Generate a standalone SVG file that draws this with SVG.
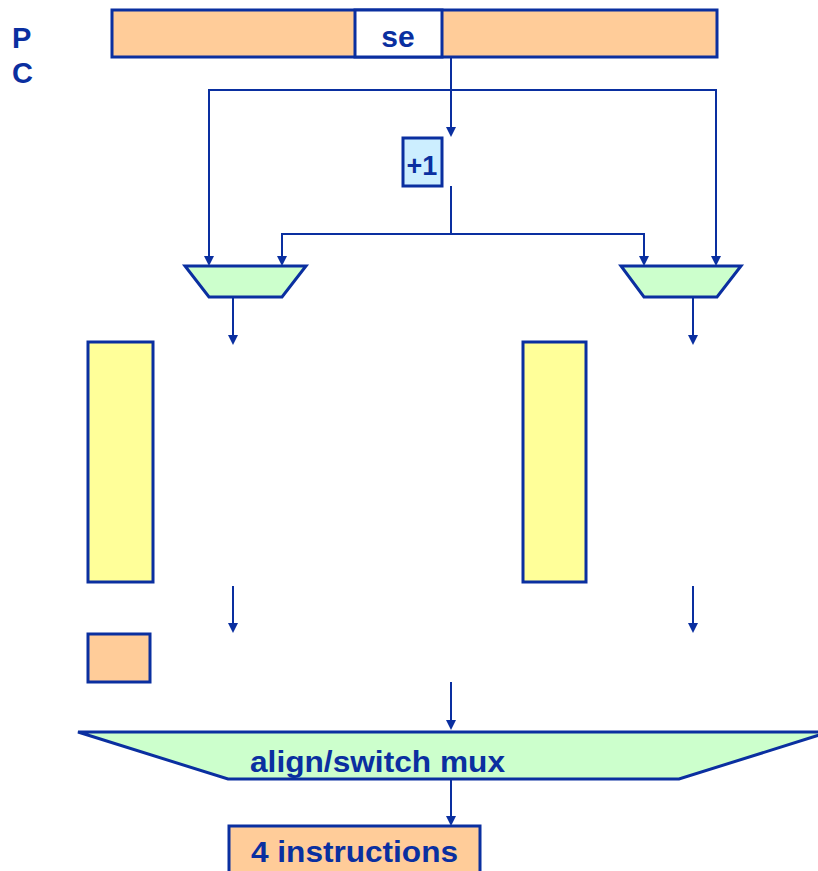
<svg xmlns="http://www.w3.org/2000/svg" width="818" height="871" viewBox="0 0 818 871">
<style>
.b{stroke:#0a2fa0;stroke-width:3;stroke-linejoin:miter}
.or{fill:#ffcc99}
.ye{fill:#ffff99}
.gr{fill:#ccffcc}
.lb{fill:#cceeff}
.wh{fill:#ffffff}
.w{fill:none;stroke:#0a2fa0;stroke-width:2}
.t{font-family:"Liberation Sans",Arial,sans-serif;font-weight:bold;fill:#0a2fa0}
</style>
<defs>
<marker id="ah" markerUnits="userSpaceOnUse" markerWidth="10" markerHeight="10" refX="8" refY="5" orient="auto" viewBox="0 0 10 10">
<path d="M0,0 L10,5 L0,10 z" fill="#0a2fa0"/>
</marker>
</defs>
<rect width="818" height="871" fill="#ffffff"/>
<g id="pc-label">
<text class="t" x="12" y="48" font-size="29">P</text>
<text class="t" x="12" y="83" font-size="29">C</text>
</g>
<g id="pc">
<rect class="b or" x="112" y="10" width="605" height="47"/>
<rect class="b wh" x="355" y="10" width="87" height="47"/>
<text class="t" x="398" y="47" font-size="30" text-anchor="middle">se</text>
</g>
<g id="inc">
<rect class="b lb" x="403" y="138" width="39" height="48" stroke-width="2"/>
<text class="t" x="422" y="175" font-size="27" text-anchor="middle">+1</text>
</g>
<g id="mux-left">
<polygon class="b gr" points="185,266 306,266 282,297 209,297"/>
</g>
<g id="mux-right">
<polygon class="b gr" points="621,266 741,266 717,297 644,297"/>
</g>
<g id="bank-left">
<rect class="b ye" x="88" y="342" width="65" height="240"/>
</g>
<g id="bank-right">
<rect class="b ye" x="523" y="342" width="63" height="240"/>
</g>
<g id="small-reg">
<rect class="b or" x="88" y="634" width="62" height="48"/>
</g>
<g id="align-mux">
<polygon class="b gr" points="78,732 829,732 679,779 228,779"/>
<text class="t" x="250" y="772" font-size="30" textLength="255" lengthAdjust="spacingAndGlyphs">align/switch mux</text>
</g>
<g id="out">
<rect class="b or" x="229" y="826" width="251" height="52"/>
<text class="t" x="251" y="862" font-size="30" textLength="207" lengthAdjust="spacingAndGlyphs">4 instructions</text>
</g>
<g id="connectors">
<path class="w" d="M451,57 V135" marker-end="url(#ah)"/>
<path class="w" d="M209,264 V90 H716 V264" marker-end="url(#ah)"/>
<path class="w" d="M209,90 V264" marker-end="url(#ah)"/>
<path class="w" d="M451,186 V234"/>
<path class="w" d="M282,264 V234 H644 V264" marker-end="url(#ah)"/>
<path class="w" d="M644,234 H282 V264" marker-end="url(#ah)"/>
<path class="w" d="M233,298 V343" marker-end="url(#ah)"/>
<path class="w" d="M693,298 V343" marker-end="url(#ah)"/>
<path class="w" d="M233,586 V631" marker-end="url(#ah)"/>
<path class="w" d="M693,586 V631" marker-end="url(#ah)"/>
<path class="w" d="M451,682 V728" marker-end="url(#ah)"/>
<path class="w" d="M451,780 V824" marker-end="url(#ah)"/>
</g>
</svg>
